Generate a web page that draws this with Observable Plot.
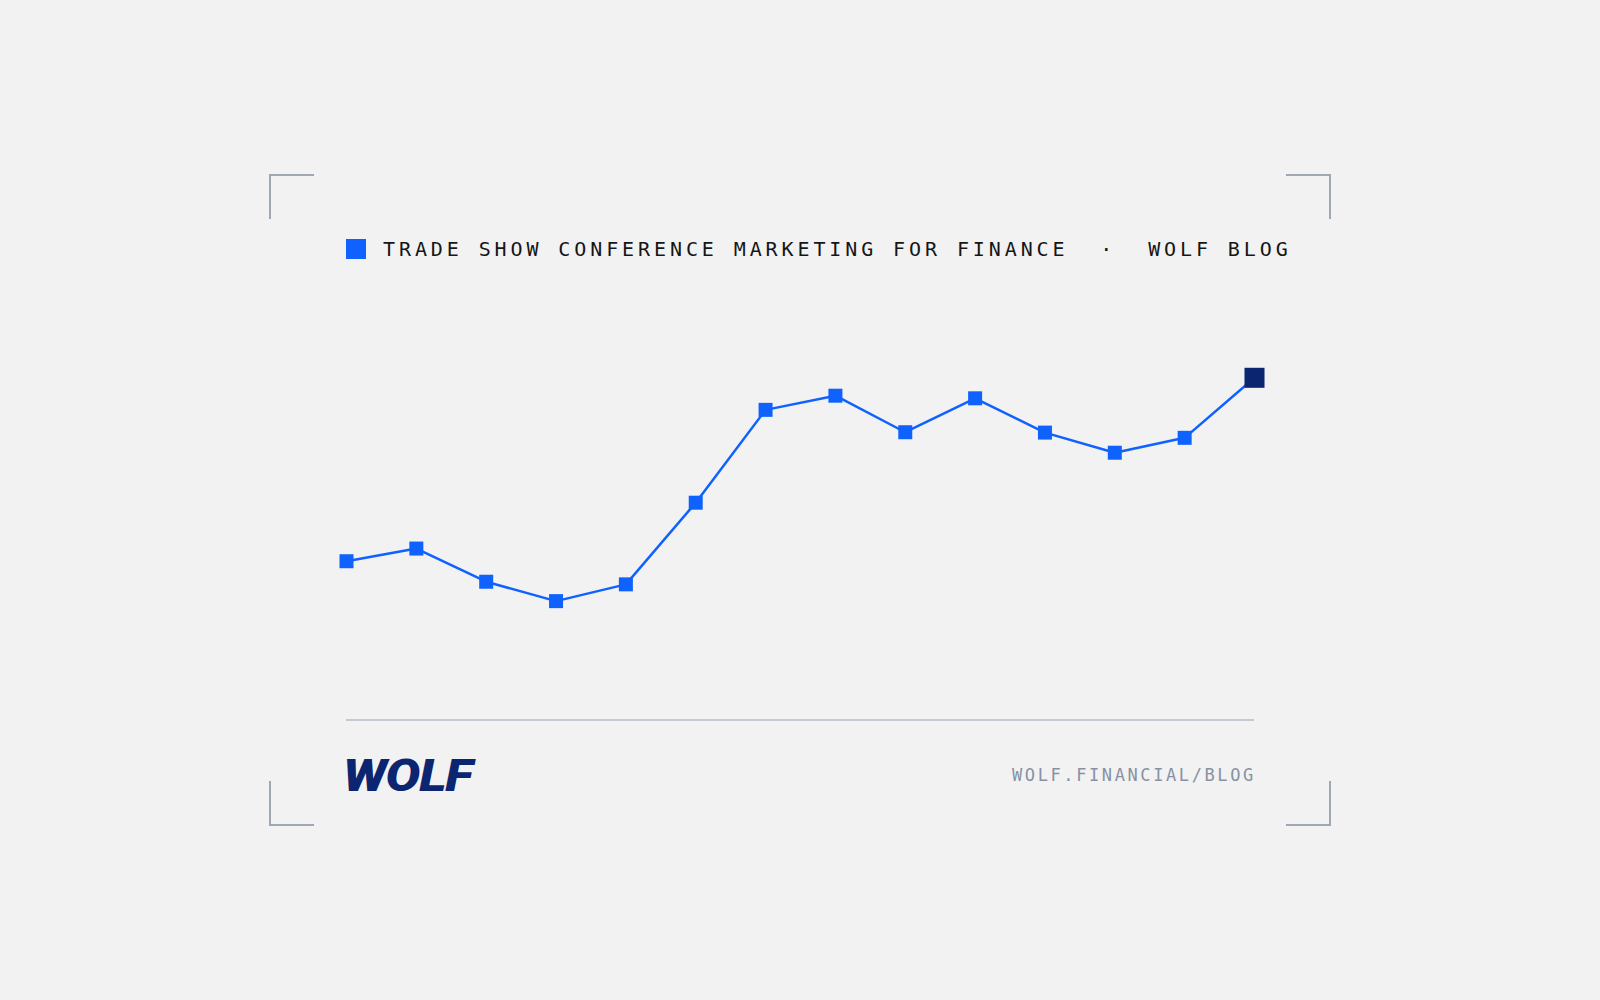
<!DOCTYPE html>
<html>
<head>
<meta charset="utf-8">
<script src="https://cdn.jsdelivr.net/npm/d3@7"></script>
<script src="https://cdn.jsdelivr.net/npm/@observablehq/plot@0.6"></script>
<style>
  html, body { margin: 0; padding: 0; background: #f2f2f2; }
  #page { position: relative; width: 1600px; height: 1000px; background: #f2f2f2; overflow: hidden; }
  #chart { position: absolute; left: 0; top: 0; width: 1600px; height: 1000px; }
  #chart svg { max-width: none; }
  .corner { position: absolute; width: 43px; height: 43px; border-color: #9ea7b3; border-style: solid; border-width: 0; }
  #legend-swatch { position: absolute; left: 346px; top: 239px; width: 20px; height: 20px; background: #0f62fe; }
  #title { position: absolute; left: 383px; top: 239px; font-family: "DejaVu Sans Mono", monospace; font-size: 20px; line-height: 20px; letter-spacing: 3.9px; color: #161616; white-space: pre; }
  #rule { position: absolute; left: 346px; top: 719px; width: 908px; height: 1.5px; background: #c6cad6; }
  #logo { position: absolute; left: 343px; top: 754px; font-family: Roboto, "Liberation Sans", sans-serif; font-weight: 900; font-style: italic; font-size: 44px; line-height: 44px; letter-spacing: -1px; color: #0b2570; transform: scaleX(1.18); transform-origin: left center; }
  #url { position: absolute; left: 1012px; top: 767px; font-family: "DejaVu Sans Mono", monospace; font-size: 17px; line-height: 17px; letter-spacing: 2.6px; color: #8891a4; white-space: pre; }
</style>
</head>
<body>
<div id="page">
  <div class="corner" style="left:269px; top:174px; border-left-width:2px; border-top-width:2px;"></div>
  <div class="corner" style="left:1286px; top:174px; border-right-width:2px; border-top-width:2px;"></div>
  <div class="corner" style="left:269px; top:781px; border-left-width:2px; border-bottom-width:2px;"></div>
  <div class="corner" style="left:1286px; top:781px; border-right-width:2px; border-bottom-width:2px;"></div>
  <div id="legend-swatch"></div>
  <div id="title"></div>
  <div id="chart"></div>
  <div id="rule"></div>
  <div id="logo">WOLF</div>
  <div id="url"></div>
</div>
<script>
// ---- data ----
const titleText = "TRADE SHOW CONFERENCE MARKETING FOR FINANCE  ·  WOLF BLOG";
const footerUrl = "WOLF.FINANCIAL/BLOG";
const periods = ["P01","P02","P03","P04","P05","P06","P07","P08","P09","P10","P11","P12","P13","P14"];
const values  = [50.8, 54.2, 45.3, 40.1, 44.6, 66.5, 91.4, 95.2, 85.4, 94.5, 85.3, 79.9, 83.9, 100];

// ---- build ----
document.getElementById("title").textContent = titleText;
document.getElementById("url").textContent = footerUrl;

const data = periods.map((p, i) => ({period: p, idx: i, value: values[i], last: i === periods.length - 1}));

const chart = Plot.plot({
  width: 1600,
  height: 1000,
  margin: 0,
  style: {background: "transparent", overflow: "visible", maxWidth: "none"},
  x: {type: "linear", domain: [0, periods.length - 1], range: [346, 1254], axis: null},
  y: {domain: [40, 100], range: [601, 377.3], axis: null},
  marks: [
    Plot.line(data, {x: "idx", y: "value", stroke: "#0f62fe", strokeWidth: 2.5}),
    Plot.dot(data.filter(d => !d.last), {x: "idx", y: "value", symbol: "square", r: 7.9, fill: "#0f62fe", stroke: null}),
    Plot.dot(data.filter(d => d.last), {x: "idx", y: "value", symbol: "square", r: 11.3, fill: "#0b2570", stroke: null})
  ]
});
document.getElementById("chart").appendChild(chart);
</script>
</body>
</html>
